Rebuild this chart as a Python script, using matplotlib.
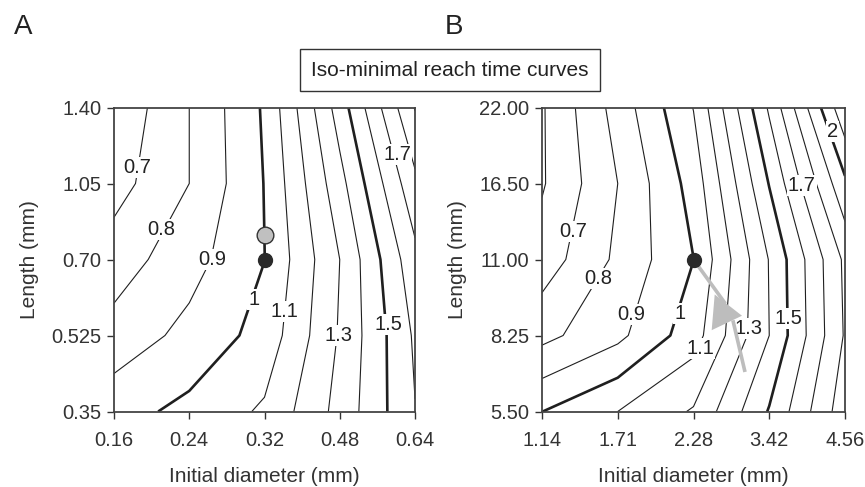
import numpy as np
import matplotlib
matplotlib.use('Agg')
import matplotlib.pyplot as plt

plt.rcParams['font.family'] = ['Liberation Sans', 'DejaVu Sans']

# grid labels (values sit at equally spaced positions)
a_diam = ['0.16', '0.24', '0.32', '0.48', '0.64']
a_len = ['0.35', '0.525', '0.70', '1.05', '1.40']
b_diam = ['1.14', '1.71', '2.28', '3.42', '4.56']
b_len = ['5.50', '8.25', '11.00', '16.50', '22.00']

# normalised minimal reach time, rows = length (bottom to top), cols = diameter
a_time = [
    [0.963, 1.026, 1.115, 1.333, 1.597],
    [0.837, 0.930, 1.035, 1.310, 1.615],
    [0.750, 0.860, 0.999, 1.300, 1.670],
    [0.660, 0.800, 1.003, 1.365, 1.775],
    [0.620, 0.800, 1.013, 1.447, 1.906],
]
b_time = [
    [0.999, 1.100, 1.210, 1.508, 1.860],
    [0.771, 0.875, 1.055, 1.400, 1.810],
    [0.645, 0.820, 0.999, 1.405, 1.820],
    [0.590, 0.800, 1.040, 1.505, 1.980],
    [0.590, 0.840, 1.103, 1.615, 2.180],
]

levels = np.round(np.arange(0.6, 2.25, 0.1), 2)
bold = [1.0, 1.5, 2.0]

# contour labels: level and position (grid index coords)
a_lab_val = [0.7, 0.8, 0.9, 1.0, 1.1, 1.3, 1.5, 1.7]
a_lab_pos = [(0.31, 3.21), (0.63, 2.39), (1.31, 2.0), (1.86, 1.48), (2.27, 1.32),
             (2.98, 1.0), (3.65, 1.14), (3.76, 3.38)]
b_lab_val = [0.7, 0.8, 0.9, 1.0, 1.1, 1.3, 1.5, 1.7, 2.0]
b_lab_pos = [(0.41, 2.37), (0.74, 1.75), (1.18, 1.27), (1.82, 1.29), (2.09, 0.83),
             (2.72, 1.09), (3.25, 1.23), (3.43, 2.98), (3.84, 3.68)]

# optimum markers
a_opt = (2, 2)
a_alt = (2, 2.32)
b_opt = (2, 2)
# grey path in panel B
b_path1 = ([2.0, 2.42], [2.0, 1.42])
b_path2 = ([2.68, 2.52], [0.52, 1.2])
b_head = [(2.28, 1.54), (2.64, 1.26), (2.24, 1.07)]


def panel(ax, z, xl, yl, lab_val, lab_pos):
    z = np.array(z)
    x = np.arange(z.shape[1])
    y = np.arange(z.shape[0])
    lw = [1.9 if any(abs(l - b) < 1e-6 for b in bold) else 0.8 for l in levels]
    ax.contour(x, y, z, levels=levels, colors='#1f1f1f', linewidths=lw)
    for v, (px, py) in zip(lab_val, lab_pos):
        ax.text(px, py, f'{v:g}', fontsize=14.5, ha='center', va='center',
                color='#222222', zorder=3,
                bbox=dict(boxstyle='square,pad=0.05', fc='white', ec='none'))
    ax.set_xlim(0, 4)
    ax.set_ylim(0, 4)
    ax.set_xticks(x)
    ax.set_xticklabels(xl)
    ax.set_yticks(y)
    ax.set_yticklabels(yl)
    ax.tick_params(direction='out', length=5, width=1, colors='#333333',
                   labelsize=14.5)
    ax.tick_params(axis='x', pad=9)
    ax.tick_params(axis='y', pad=4)
    for s in ax.spines.values():
        s.set_color('#444444')
        s.set_linewidth(1.3)
    ax.set_xlabel('Initial diameter (mm)', fontsize=15, color='#333333', labelpad=12)
    ax.set_ylabel('Length (mm)', fontsize=15, color='#333333', labelpad=9)


fig = plt.figure(figsize=(8.65, 4.87), dpi=100)
axA = fig.add_axes([114 / 865, 1 - 411.5 / 487, 301 / 865, 304 / 487])
axB = fig.add_axes([542 / 865, 1 - 411.5 / 487, 303 / 865, 304 / 487])

panel(axA, a_time, a_diam, a_len, a_lab_val, a_lab_pos)
panel(axB, b_time, b_diam, b_len, b_lab_val, b_lab_pos)

axA.plot(*a_alt, 'o', ms=12, mfc='#c0c0c0', mec='#333333', mew=1, zorder=5)
axA.plot(*a_opt, 'o', ms=10, color='#2a2a2a', zorder=5)

axB.plot(*b_path1, color='#bdbdbd', lw=2.6, zorder=4, solid_capstyle='butt')
axB.plot(*b_path2, color='#bdbdbd', lw=2.6, zorder=4, solid_capstyle='butt')
axB.add_patch(plt.Polygon(b_head, closed=True, fc='#bdbdbd', ec='none', zorder=4))
axB.plot(*b_opt, 'o', ms=10, color='#2a2a2a', zorder=5)

fig.text(14 / 865, 1 - 27 / 487, 'A', fontsize=20, va='center', color='#222222')
fig.text(445 / 865, 1 - 27 / 487, 'B', fontsize=20, va='center', color='#222222')
fig.text(450 / 865, 1 - 70 / 487, 'Iso-minimal reach time curves', fontsize=15,
         ha='center', va='center', color='#222222',
         bbox=dict(boxstyle='square,pad=0.55', fc='white', ec='#333333', lw=1))

fig.savefig('out.png', dpi=100)
